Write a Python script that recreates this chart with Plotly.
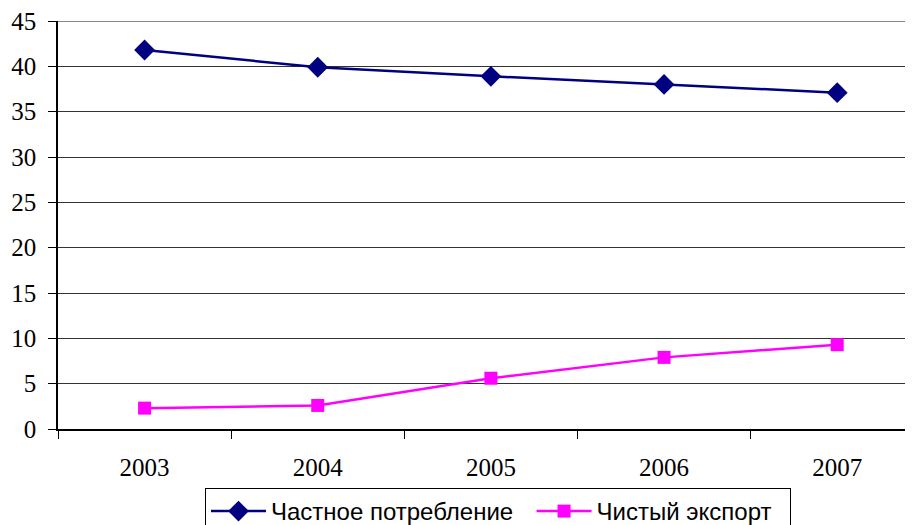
import plotly.graph_objects as go

years = ["2003", "2004", "2005", "2006", "2007"]
private_consumption = [41.8, 39.9, 38.9, 38.0, 37.1]
net_export = [2.3, 2.6, 5.6, 7.9, 9.3]
series_names = ["Частное потребление", "Чистый экспорт"]

NBSP = "\u00a0"

fig = go.Figure()
fig.add_trace(go.Scatter(
    x=years, y=private_consumption, name=series_names[0] + NBSP * 2, mode="lines+markers",
    line=dict(color="#000080", width=2.5),
    marker=dict(symbol="diamond", size=16, color="#000080"),
))
fig.add_trace(go.Scatter(
    x=years, y=net_export, name=series_names[1] + NBSP * 2, mode="lines+markers",
    line=dict(color="#FF00FF", width=2.5),
    marker=dict(symbol="square", size=13, color="#FF00FF"),
))

# page body has an 8px default margin; compensate in the figure margins
fig.update_layout(
    width=921, height=525,
    margin=dict(l=50, r=0, t=13, b=104, autoexpand=False),
    paper_bgcolor="white", plot_bgcolor="white",
    font=dict(family="Liberation Serif", size=25, color="black"),
    showlegend=True,
    legend=dict(
        orientation="h", x=(197 - 50) / 871, y=-(480 - 421) / 408,
        xanchor="left", yanchor="top",
        bordercolor="black", borderwidth=1,
        font=dict(family="Liberation Sans", size=24, color="black"),
        itemwidth=55, tracegroupgap=0,
    ),
)
fig.update_xaxes(
    type="category", range=[-0.5, 4.53],
    tickson="boundaries", ticks="outside", ticklen=8, tickcolor="black",
    showline=True, linecolor="black", linewidth=1.5,
    showgrid=False, ticklabelstandoff=15, automargin=False,
    ticklabeloverflow="allow",
    tickfont=dict(family="Liberation Serif", size=25),
)
fig.update_yaxes(
    range=[0, 45], dtick=5, ticks="outside", ticklen=8, tickcolor="black",
    showline=True, linecolor="black", linewidth=1.5,
    showgrid=True, gridcolor="#333333", gridwidth=1,
    zeroline=False, ticklabelstandoff=7, automargin=False,
    ticklabeloverflow="allow",
    tickfont=dict(family="Liberation Serif", size=25),
)
fig.add_shape(type="line", xref="paper", yref="y", x0=0, x1=1, y0=45, y1=45,
              line=dict(color="#888888", width=2))

fig.write_html("out.html")
